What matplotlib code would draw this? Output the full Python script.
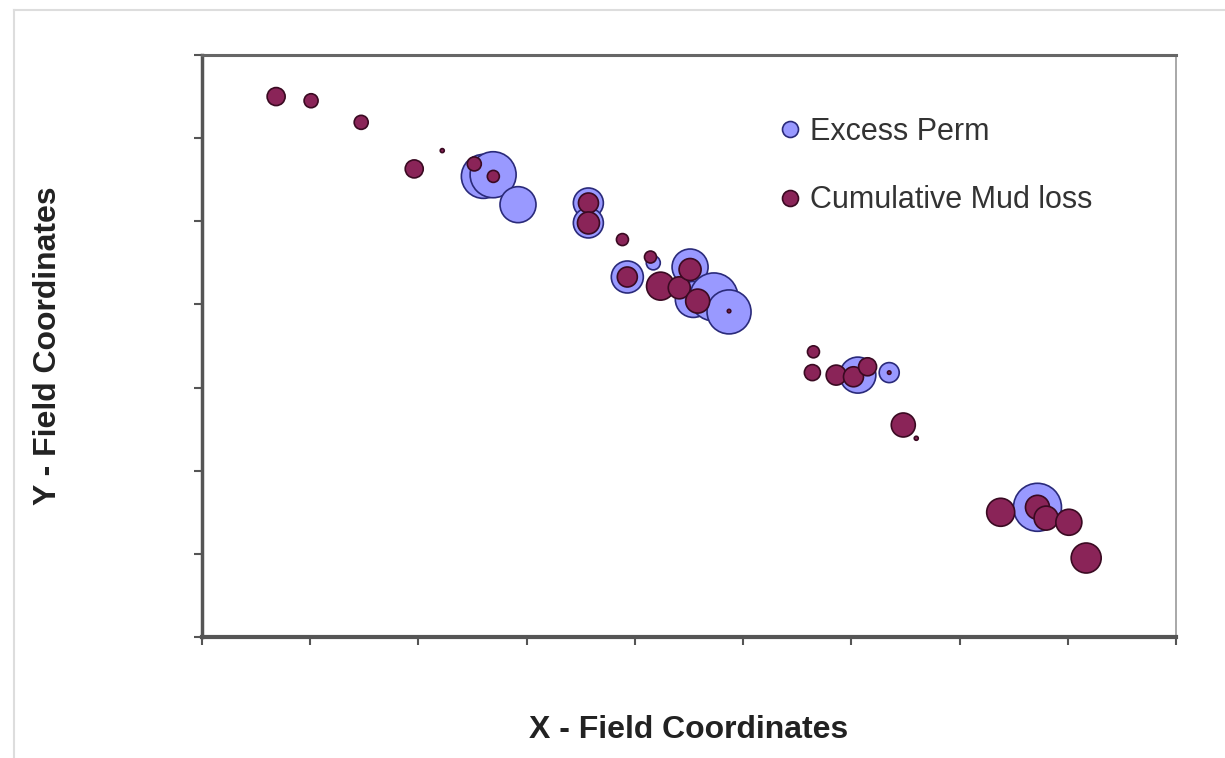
import numpy as np
import matplotlib
matplotlib.use("Agg")
import matplotlib.pyplot as plt
from matplotlib.lines import Line2D

plt.rcParams['font.family'] = ['Liberation Sans', 'DejaVu Sans']

# Excess Perm bubbles (x, y in field units, bubble value ~ area)
perm_x = [2.60, 2.69, 2.92, 3.57, 3.57, 3.93, 4.17, 4.51, 4.54, 4.73, 4.87, 6.06, 6.35, 7.72]
perm_y = [5.54, 5.56, 5.20, 5.22, 4.98, 4.33, 4.50, 4.45, 4.06, 4.09, 3.91, 3.15, 3.18, 1.56]
perm_v = [484, 529, 324, 225, 225, 256, 49, 324, 324, 576, 484, 324, 100, 576]

# Cumulative Mud loss bubbles
mud_x = [0.685, 1.008, 1.471, 1.961, 2.22, 2.516, 2.692, 3.571, 3.571, 3.885, 4.144, 3.93,
         4.237, 4.41, 4.51, 4.58, 4.87, 5.65, 5.64, 5.86, 6.02, 6.15, 6.35, 6.48, 6.60,
         7.38, 7.72, 7.80, 8.01, 8.17]
mud_y = [6.50, 6.45, 6.19, 5.63, 5.85, 5.69, 5.54, 5.22, 4.98, 4.78, 4.57, 4.33,
         4.22, 4.20, 4.42, 4.04, 3.92, 3.43, 3.18, 3.15, 3.13, 3.25, 3.18, 2.55, 2.39,
         1.50, 1.56, 1.43, 1.38, 0.95]
mud_v = [81, 49, 49, 81, 4, 49, 36, 100, 121, 36, 36, 100,
         196, 121, 121, 144, 3, 36, 64, 100, 100, 81, 3, 144, 4,
         196, 144, 144, 169, 225]

blue = '#9999ff'
blue_edge = '#2a2a7a'
maroon = '#8a2458'
maroon_edge = '#3a0a22'

# px radius^2 -> points^2 at dpi 100
k = (2 * 0.72) ** 2

fig = plt.figure(figsize=(12.25, 7.58), dpi=100)
ax = fig.add_axes([202 / 1225, 1 - 637 / 758, 974 / 1225, 582 / 758])

ax.scatter(perm_x, perm_y, s=np.array(perm_v) * k, c=blue, edgecolors=blue_edge,
           linewidths=1.2, zorder=3)
ax.scatter(mud_x, mud_y, s=np.array(mud_v) * k, c=maroon, edgecolors=maroon_edge,
           linewidths=1.2, zorder=4)

ax.set_xlim(0, 9)
ax.set_ylim(0, 7)
ax.set_xticks(np.arange(0, 9.1, 1))
ax.set_yticks(np.arange(0, 7.1, 1))
ax.tick_params(axis='both', direction='out', length=6, width=1.5, color='#555555',
               labelbottom=False, labelleft=False)

ax.spines['left'].set_color('#555555')
ax.spines['left'].set_linewidth(2.5)
ax.spines['bottom'].set_color('#555555')
ax.spines['bottom'].set_linewidth(3)
ax.spines['top'].set_color('#666666')
ax.spines['top'].set_linewidth(2.2)
ax.spines['right'].set_color('#999999')
ax.spines['right'].set_linewidth(1.2)

ax.set_xlabel('X - Field Coordinates', fontsize=23, fontweight='bold', color='#222222', va='center')
ax.xaxis.set_label_coords(0.5, -(730 - 637) / 582)
ax.set_ylabel('Y - Field Coordinates', fontsize=23, fontweight='bold', color='#222222', va='center')
ax.yaxis.set_label_coords((48 - 202) / 974, 0.5)

handles = [
    Line2D([], [], ls='none', marker='o', ms=11.5, mfc=blue, mec=blue_edge, mew=1.2),
    Line2D([], [], ls='none', marker='o', ms=11.5, mfc=maroon, mec=maroon_edge, mew=1.2),
]
leg = ax.legend(handles, ['Excess Perm', 'Cumulative Mud loss'], loc='upper left',
                bbox_to_anchor=((781 - 202) / 974, (637 - 117) / 582), frameon=False,
                fontsize=22, labelspacing=1.25, handletextpad=0.35, handlelength=0.6,
                borderaxespad=0, borderpad=0)
for t in leg.get_texts():
    t.set_color('#333333')

# outer chart-area frame (top and left edges visible)
fig.add_artist(Line2D([14 / 1225, 1], [1 - 10 / 758, 1 - 10 / 758], color='#dddddd', lw=1.5))
fig.add_artist(Line2D([14 / 1225, 14 / 1225], [0, 1 - 10 / 758], color='#dddddd', lw=1.5))

fig.savefig('out.png', dpi=100)
